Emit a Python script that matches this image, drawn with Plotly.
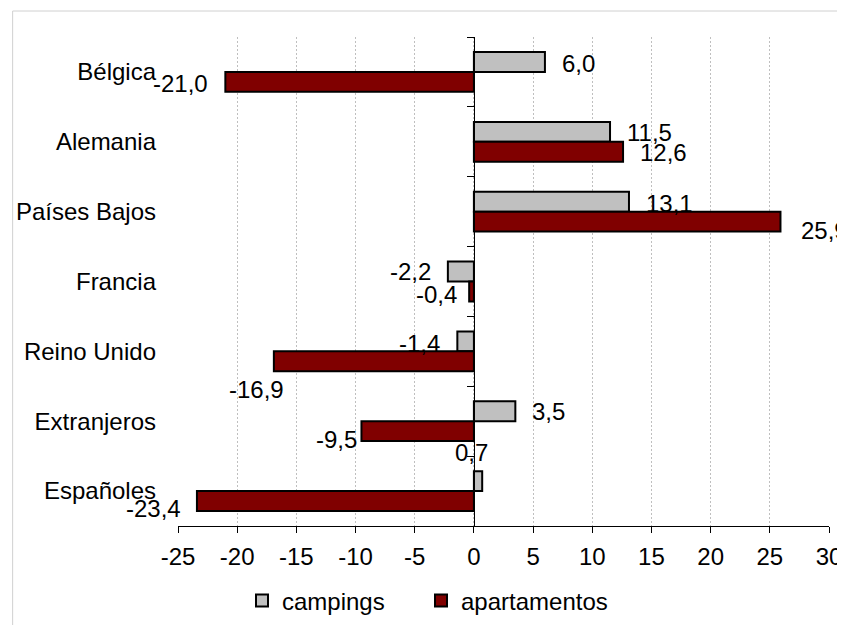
import plotly.graph_objects as go

# ---- data ----
categories = ["Bélgica", "Alemania", "Países Bajos", "Francia", "Reino Unido", "Extranjeros", "Españoles"]
campings = [6.0, 11.5, 13.1, -2.2, -1.4, 3.5, 0.7]
apartamentos = [-21.0, 12.6, 25.9, -0.4, -16.9, -9.5, -23.4]
x_tick_values = [-25, -20, -15, -10, -5, 0, 5, 10, 15, 20, 25, 30]
x_tick_labels = ["-25", "-20", "-15", "-10", "-5", "0", "5", "10", "15", "20", "25", "30"]
series_names = ["campings", "apartamentos"]

# ---- style ----
FONT = "Liberation Sans, Arial, sans-serif"
FS = 24
GRAY = "#C0C0C0"
RED = "#800000"
W, H = 845, 625
ML, MR, MT, MB = 169.5, 24, 29, 107
PW, PH = W - ML - MR, H - MT - MB

# label offsets: (dx outward from bar end in px, dy downward from bar centre in px, mode)
camp_off = [(17, 1.5, "end"), (17, 1, "end"), (17, 1.5, "end"), (17, 0, "end"),
            (17, 2, "end"), (17, 0, "end"), (-11, -29, "center")]
apt_off = [(17, 2, "end"), (17, 0.5, "end"), (21, 9, "end"), (12, 3, "end"),
           (-10.5, 28, "end"), (4, 8, "end"), (16, 7, "end")]


def fmt(v):
    return f"{v:.1f}".replace(".", ",")


fig = go.Figure()
fig.add_trace(go.Bar(
    y=categories, x=campings, name=series_names[0], orientation="h",
    marker=dict(color=GRAY, line=dict(color="black", width=2)), legend="legend",
))
fig.add_trace(go.Bar(
    y=categories, x=apartamentos, name=series_names[1], orientation="h",
    marker=dict(color=RED, line=dict(color="black", width=2)), legend="legend2",
))
# helper trace for the category axis drawn at x = 0
fig.add_trace(go.Scatter(x=[None], y=[None], yaxis="y2", showlegend=False, hoverinfo="skip"))

annotations = []
BAR_HALF = 10  # campings above the category centre, apartamentos below
for vals, offs, centre_shift in ((campings, camp_off, BAR_HALF), (apartamentos, apt_off, -BAR_HALF)):
    for cat, v, (dx, dy, mode) in zip(categories, vals, offs):
        if mode == "center":
            xanchor = "center"
            xshift = dx
        elif v >= 0:
            xanchor = "left"
            xshift = dx - 2
        else:
            xanchor = "right"
            xshift = -(dx - 2)
        annotations.append(dict(
            x=v, y=cat, xref="x", yref="y", text=fmt(v), showarrow=False,
            xanchor=xanchor, yanchor="middle", xshift=xshift, yshift=centre_shift - dy,
            font=dict(family=FONT, size=FS, color="black"),
        ))

legend_common = dict(
    orientation="h", xref="container", yref="container",
    y=1 - 593 / H, xanchor="left", yanchor="middle",
    font=dict(family=FONT, size=FS, color="black"), bgcolor="rgba(0,0,0,0)",
)

n = len(categories)
fig.update_layout(
    width=W, height=H,
    margin=dict(l=ML, r=MR, t=MT, b=MB, autoexpand=False),
    paper_bgcolor="white", plot_bgcolor="white",
    font=dict(family=FONT, size=FS, color="black"),
    barmode="group", bargap=0.43, bargroupgap=0,
    showlegend=True,
    legend=dict(x=234 / W, **legend_common),
    legend2=dict(x=413 / W, **legend_common),
    xaxis=dict(
        range=[-25, 30], tickvals=x_tick_values, ticktext=x_tick_labels,
        showgrid=True, gridcolor="#BFBFBF", griddash="2px,2px", gridwidth=1,
        zeroline=False, showline=True, linecolor="black", linewidth=1,
        ticks="outside", ticklen=6, tickcolor="black", tickwidth=1,
        ticklabelstandoff=3,
        tickfont=dict(family=FONT, size=FS, color="black"),
        fixedrange=True,
    ),
    yaxis=dict(
        type="category", range=[n - 0.5, -0.5], autorange=False,
        showgrid=False, zeroline=False,
        showline=False, ticks="", ticklabelstandoff=21,
        tickfont=dict(family=FONT, size=FS, color="black"),
    ),
    yaxis2=dict(
        overlaying="y", anchor="free", position=25 / 55, side="left",
        range=[n - 0.5, -0.5], autorange=False,
        tickvals=[i - 0.5 for i in range(n + 1)],
        showticklabels=False, ticks="outside", ticklen=7, tickcolor="black", tickwidth=1,
        showline=True, linecolor="black", linewidth=1, showgrid=False, zeroline=False,
    ),
    annotations=annotations,
    shapes=[dict(
        type="rect", xref="paper", yref="paper",
        x0=(4 - ML) / PW, x1=1.2, y0=-0.4, y1=(PH + MT - 3) / PH,
        line=dict(color="#D0D0D0", width=1), fillcolor="rgba(0,0,0,0)", layer="below",
    )],
)

fig.write_html("out.html")
